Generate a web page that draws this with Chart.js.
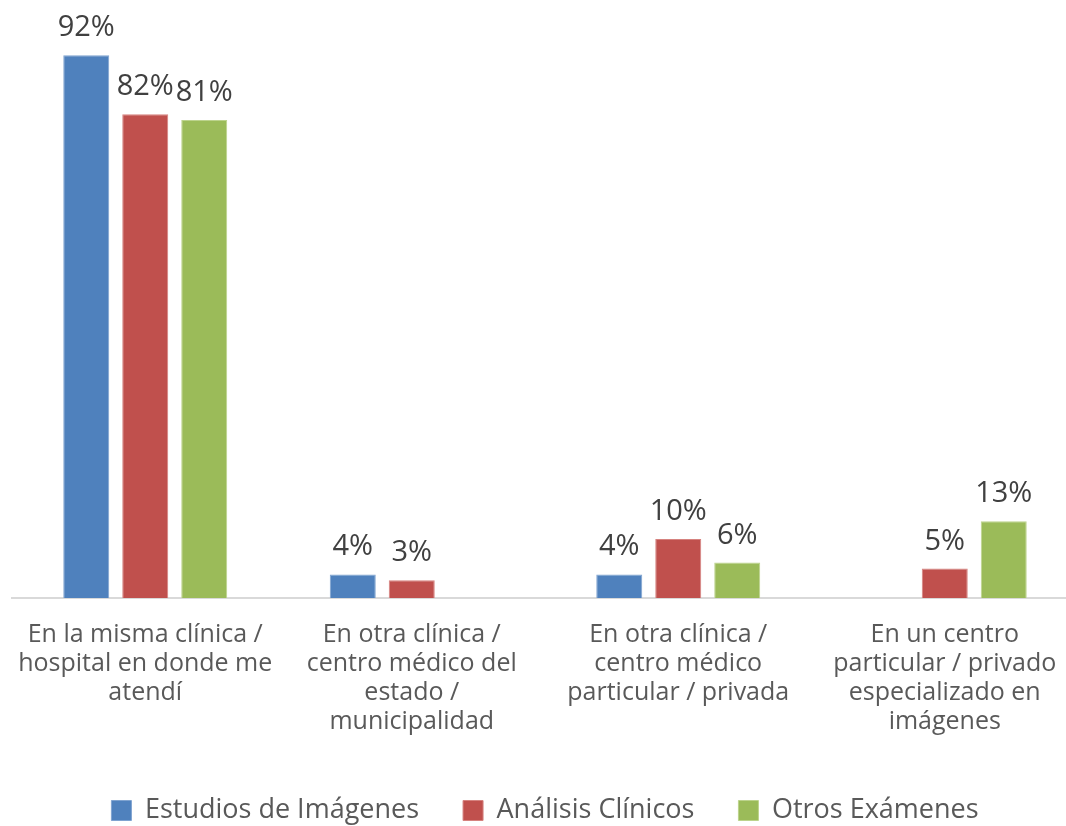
<!DOCTYPE html>
<html>
<head>
<meta charset="utf-8">
<script src="https://cdn.jsdelivr.net/npm/chart.js@4"></script>
<style>
  html, body { margin: 0; padding: 0; background: #fff; overflow: hidden; }
  #wrap { width: 1078px; height: 834px; }
</style>
</head>
<body>
<div id="wrap"><canvas id="chart"></canvas></div>
<script>
const categories = [
  ["En la misma clínica /", "hospital en donde me", "atendí"],
  ["En otra clínica /", "centro médico del", "estado /", "municipalidad"],
  ["En otra clínica /", "centro médico", "particular / privada"],
  ["En un centro", "particular / privado", "especializado en", "imágenes"]
]

const estudiosImagenes = [92, 4, 4, null]
const analisisClinicos = [82, 3, 10, 5]
const otrosExamenes = [81, null, 6, 13]

const FONT = "'Open Sans', sans-serif"

/* ===== value labels above bars ===== */

const barLabels = {
  id: "barLabels",
  afterDatasetsDraw(chart) {
    const ctx = chart.ctx
    ctx.save()
    ctx.font = "29px " + FONT
    ctx.fillStyle = "#404040"
    ctx.textAlign = "center"
    ctx.textBaseline = "alphabetic"
    chart.data.datasets.forEach((ds, i) => {
      const meta = chart.getDatasetMeta(i)
      meta.data.forEach((bar, j) => {
        const v = ds.data[j]
        if (v === null || v === undefined) return
        ctx.fillText(v + "%", bar.x, bar.y - 19)
      })
    })
    ctx.restore()
  }
}

const ctx = document.getElementById("chart").getContext("2d")

new Chart(ctx, {
  type: "bar",
  data: {
    labels: categories,
    datasets: [
      {
        label: "Estudios de Imágenes",
        data: estudiosImagenes,
        backgroundColor: "#4f81bd",
        borderColor: "#7fa3d0",
        borderWidth: 1
      },
      {
        label: "Análisis Clínicos",
        data: analisisClinicos,
        backgroundColor: "#c0504d",
        borderColor: "#d6827f",
        borderWidth: 1
      },
      {
        label: "Otros Exámenes",
        data: otrosExamenes,
        backgroundColor: "#9bbb59",
        borderColor: "#bcd38c",
        borderWidth: 1
      }
    ]
  },
  options: {
    responsive: true,
    maintainAspectRatio: false,
    animation: false,
    datasets: {
      bar: {
        barPercentage: 0.78,
        categoryPercentage: 0.664
      }
    },
    layout: {
      padding: { left: 12, right: 0, top: 8, bottom: 0 }
    },
    scales: {
      x: {
        grid: { display: false },
        border: { color: "#d9d9d9", width: 2 },
        ticks: {
          color: "#595959",
          font: { family: FONT, size: 25, lineHeight: 1.16 },
          padding: 14,
          maxRotation: 0,
          autoSkip: false
        },
        afterFit(scale) {
          scale.height = 155
        }
      },
      y: {
        display: false,
        min: 0,
        max: 100
      }
    },
    plugins: {
      legend: {
        position: "bottom",
        labels: {
          color: "#595959",
          font: { family: FONT, size: 27 },
          boxWidth: 20,
          boxHeight: 20,
          padding: 44
        }
      },
      tooltip: { enabled: false }
    }
  },
  plugins: [barLabels]
})
</script>
</body>
</html>
